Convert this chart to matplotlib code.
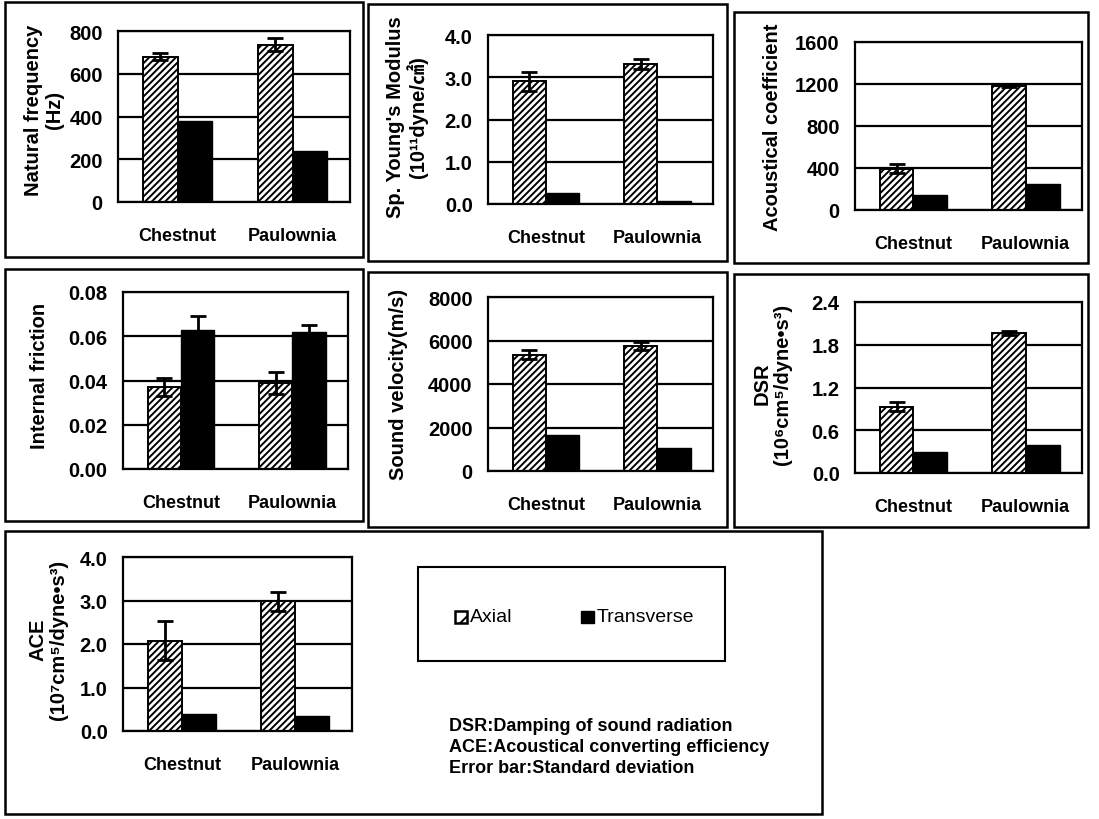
import matplotlib
matplotlib.use("Agg")
import matplotlib.pyplot as plt
import matplotlib.patches as mpatches
import numpy as np

# ── data ──────────────────────────────────────────────────────────────────────
species = ["Chestnut", "Paulownia"]
series = ["Axial", "Transverse"]

freq_axial = [680, 735]
freq_axial_err = [15, 30]
freq_trans = [380, 240]

young_axial = [2.90, 3.32]
young_axial_err = [0.23, 0.12]
young_trans = [0.25, 0.08]

acoef_axial = [395, 1180]
acoef_axial_err = [45, 10]
acoef_trans = [140, 245]

friction_axial = [0.037, 0.039]
friction_axial_err = [0.004, 0.005]
friction_trans = [0.063, 0.062]
friction_trans_err = [0.006, 0.003]

velocity_axial = [5350, 5750]
velocity_axial_err = [220, 170]
velocity_trans = [1660, 1050]

dsr_axial = [0.93, 1.97]
dsr_axial_err = [0.06, 0.03]
dsr_trans = [0.30, 0.40]

ace_axial = [2.08, 2.98]
ace_axial_err = [0.45, 0.22]
ace_trans = [0.38, 0.35]

notes = ["DSR:Damping of sound radiation",
         "ACE:Acoustical converting efficiency",
         "Error bar:Standard deviation"]

# ── style ─────────────────────────────────────────────────────────────────────
W, H = 1099, 820
plt.rcParams.update({
    "font.family": ["Liberation Sans", "Noto Sans CJK KR", "DejaVu Sans"],
    "hatch.linewidth": 1.4,
    "hatch.color": "black",
})
HATCH = "/" * 5
FS = 13        # category labels
FS_TICK = 14.5
FS_LABEL = 14.5


def fx(x):
    return x / W


def fy(y):
    return 1 - y / H


fig = plt.figure(figsize=(W / 100, H / 100), dpi=100)


def frame(x0, y0, x1, y1, lw=1.8):
    fig.add_artist(mpatches.Rectangle((fx(x0), fy(y1)), fx(x1 - x0), (y1 - y0) / H,
                                      fill=False, edgecolor="black", lw=lw,
                                      transform=fig.transFigure))


def panel(box, area, axial, axial_err, trans, trans_err, yticks, fmt,
          label, label_xy):
    frame(*box)
    x0, y0, x1, y1 = area
    ax = fig.add_axes([fx(x0), fy(y1), fx(x1 - x0), (y1 - y0) / H])
    x = np.arange(len(species))
    w = 0.30
    ax.bar(x - w / 2, axial, w, color="white", edgecolor="black", hatch=HATCH,
           lw=1.4, zorder=2)
    ax.bar(x + w / 2, trans, w, color="black", edgecolor="black", zorder=2)
    ax.errorbar(x - w / 2, axial, yerr=axial_err, fmt="none", ecolor="black",
                elinewidth=2, capsize=6, capthick=2, zorder=3)
    if trans_err is not None:
        ax.errorbar(x + w / 2, trans, yerr=trans_err, fmt="none", ecolor="black",
                    elinewidth=2, capsize=6, capthick=2, zorder=3)
    ax.set_xlim(-0.52, 1.5)
    ax.set_ylim(yticks[0], yticks[-1])
    ax.set_yticks(yticks)
    ax.set_yticklabels([fmt.format(v) for v in yticks], fontsize=FS_TICK,
                       fontweight="bold")
    ax.set_xticks(x)
    ax.set_xticklabels(species, fontsize=FS, fontweight="bold")
    ax.tick_params(axis="both", length=0)
    ax.tick_params(axis="y", pad=11)
    ax.tick_params(axis="x", pad=18)
    ax.yaxis.grid(True, color="black", lw=1.6)
    ax.set_axisbelow(True)
    for s in ax.spines.values():
        s.set_linewidth(1.6)
    fig.text(fx(label_xy[0]), fy(label_xy[1]), label, rotation=90, ha="center",
             va="center", fontsize=FS_LABEL, fontweight="bold", linespacing=1.1,
             multialignment="center")
    return ax


panel((5, 3, 363, 258), (118, 32, 350, 203), freq_axial, freq_axial_err,
      freq_trans, None, [0, 200, 400, 600, 800], "{:.0f}",
      "Natural frequency\n(Hz)", (44, 110))
panel((368, 5, 727, 262), (488, 36, 713, 205), young_axial, young_axial_err,
      young_trans, None, [0.0, 1.0, 2.0, 3.0, 4.0], "{:.1f}",
      "Sp. Young's Modulus\n(10\u00b9\u00b9dyne/\u33a0)", (407, 117))
panel((734, 13, 1088, 264), (855, 43, 1082, 211), acoef_axial, acoef_axial_err,
      acoef_trans, None, [0, 400, 800, 1200, 1600], "{:.0f}",
      "Acoustical coefficient", (772, 127))
panel((5, 270, 363, 522), (123, 293, 348, 470), friction_axial, friction_axial_err,
      friction_trans, friction_trans_err, [0.0, 0.02, 0.04, 0.06, 0.08], "{:.2f}",
      "Internal friction", (40, 376))
panel((368, 273, 727, 528), (488, 298, 713, 472), velocity_axial, velocity_axial_err,
      velocity_trans, None, [0, 2000, 4000, 6000, 8000], "{:.0f}",
      "Sound velocity(m/s)", (398, 384))
panel((734, 275, 1088, 528), (855, 303, 1082, 474), dsr_axial, dsr_axial_err,
      dsr_trans, None, [0.0, 0.6, 1.2, 1.8, 2.4], "{:.1f}",
      "DSR\n(10\u2076cm\u2075/dyne\u2022s\u00b3)", (772, 384))
panel((5, 532, 822, 815), (123, 558, 352, 732), ace_axial, ace_axial_err,
      ace_trans, None, [0.0, 1.0, 2.0, 3.0, 4.0], "{:.1f}",
      "ACE\n(10\u2077cm\u2075/dyne\u2022s\u00b3)", (48, 640))

# legend box
frame(418, 568, 725, 662, lw=1.5)
fig.add_artist(mpatches.Rectangle((fx(455), fy(624)), fx(12), 12 / H,
                                  facecolor="white", edgecolor="black", lw=1.8,
                                  hatch="//", transform=fig.transFigure))
fig.text(fx(470), fy(618), series[0], fontsize=14, va="center", ha="left")
fig.add_artist(mpatches.Rectangle((fx(581), fy(624)), fx(13), 12 / H,
                                  facecolor="black", edgecolor="black", lw=1,
                                  transform=fig.transFigure))
fig.text(fx(597), fy(618), series[1], fontsize=14, va="center", ha="left")

for i, line in enumerate(notes):
    fig.text(fx(449), fy(727 + i * 21), line, fontsize=13, fontweight="bold",
             va="center", ha="left")

fig.savefig("out.png", dpi=100)
